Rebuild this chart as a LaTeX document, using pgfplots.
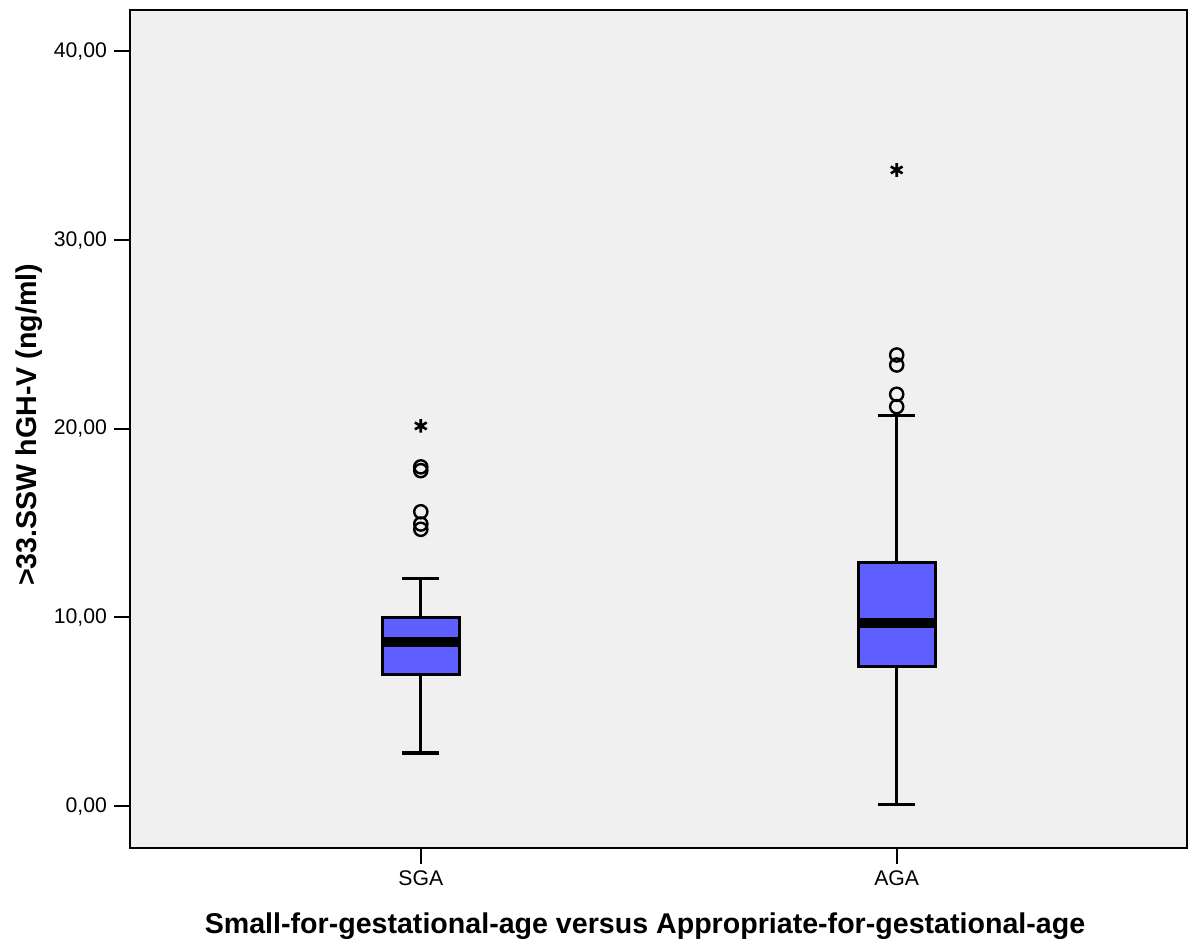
\documentclass[border=0pt]{standalone}
\usepackage{pgfplots}
\pgfplotsset{compat=1.18}
\usepgfplotslibrary{statistics}
\usetikzlibrary{calc}
\usepackage{fontspec}
\setmainfont{Liberation Sans}
\definecolor{boxblue}{RGB}{95,95,255}
\definecolor{bgc}{RGB}{240,240,240}
\begin{document}
\begin{tikzpicture}
\begin{axis}[
  width=528.5pt, height=418.85pt, scale only axis,
  xmin=0.389, xmax=2.61, ymin=-2.21, ymax=42.2,
  axis background/.style={fill=bgc},
  axis line style={line width=1pt},
  xtick={1,2}, xticklabels={SGA,AGA},
  ytick={0,10,20,30,40},
  yticklabels={{0,00},{10,00},{20,00},{30,00},{40,00}},
  tick align=outside, major tick length=8pt,
  tick style={black, line width=1pt},
  xtick pos=bottom, ytick pos=left,
  ticklabel style={font=\fontsize{10.6}{12}\selectfont},
  xlabel={Small-for-gestational-age versus Appropriate-for-gestational-age},
  ylabel={>33.SSW hGH-V (ng/ml)},
  label style={font=\bfseries\fontsize{14.3}{17}\selectfont},
  xlabel style={at={(axis description cs:0.5,0)}, anchor=base, yshift=-43pt, xshift=-6.75pt},
  ylabel style={at={(axis description cs:0,0.5)}, anchor=base, yshift=46.5pt, xshift=2pt},
  boxplot/draw direction=y,
]
\addplot[fill=boxblue, draw=black, line width=1.5pt,
  boxplot prepared={draw direction=y, draw position=1, lower whisker=2.81, lower quartile=6.96,
    median=8.68, upper quartile=10.0, upper whisker=12.07,
    box extend=0.161, whisker extend=0.078,
    every median/.style={line width=5pt},
    every whisker/.style={line width=1.7pt}}] coordinates {};
\addplot[fill=boxblue, draw=black, line width=1.5pt,
  boxplot prepared={draw direction=y, draw position=2, lower whisker=0.09, lower quartile=7.39,
    median=9.69, upper quartile=12.9, upper whisker=20.7,
    box extend=0.161, whisker extend=0.078,
    every median/.style={line width=5pt},
    every whisker/.style={line width=1.7pt}}] coordinates {};
\addplot[only marks, mark=o, mark size=3.3pt, line width=1.2pt, black]
  coordinates {(1,17.98) (1,17.78) (1,15.6) (1,14.95) (1,14.67)
               (2,23.91) (2,23.38) (2,21.83) (2,21.17)};
\addplot[only marks, mark=asterisk, mark size=3.4pt, line width=1.3pt, black]
  coordinates {(1,20.15) (2,33.72)};
\end{axis}
\pgfresetboundingbox
\path[use as bounding box] ($(current axis.south west)+(-65pt,-48.65pt)$) rectangle ($(current axis.north east)+(2pt,5pt)$);
\end{tikzpicture}
\end{document}
